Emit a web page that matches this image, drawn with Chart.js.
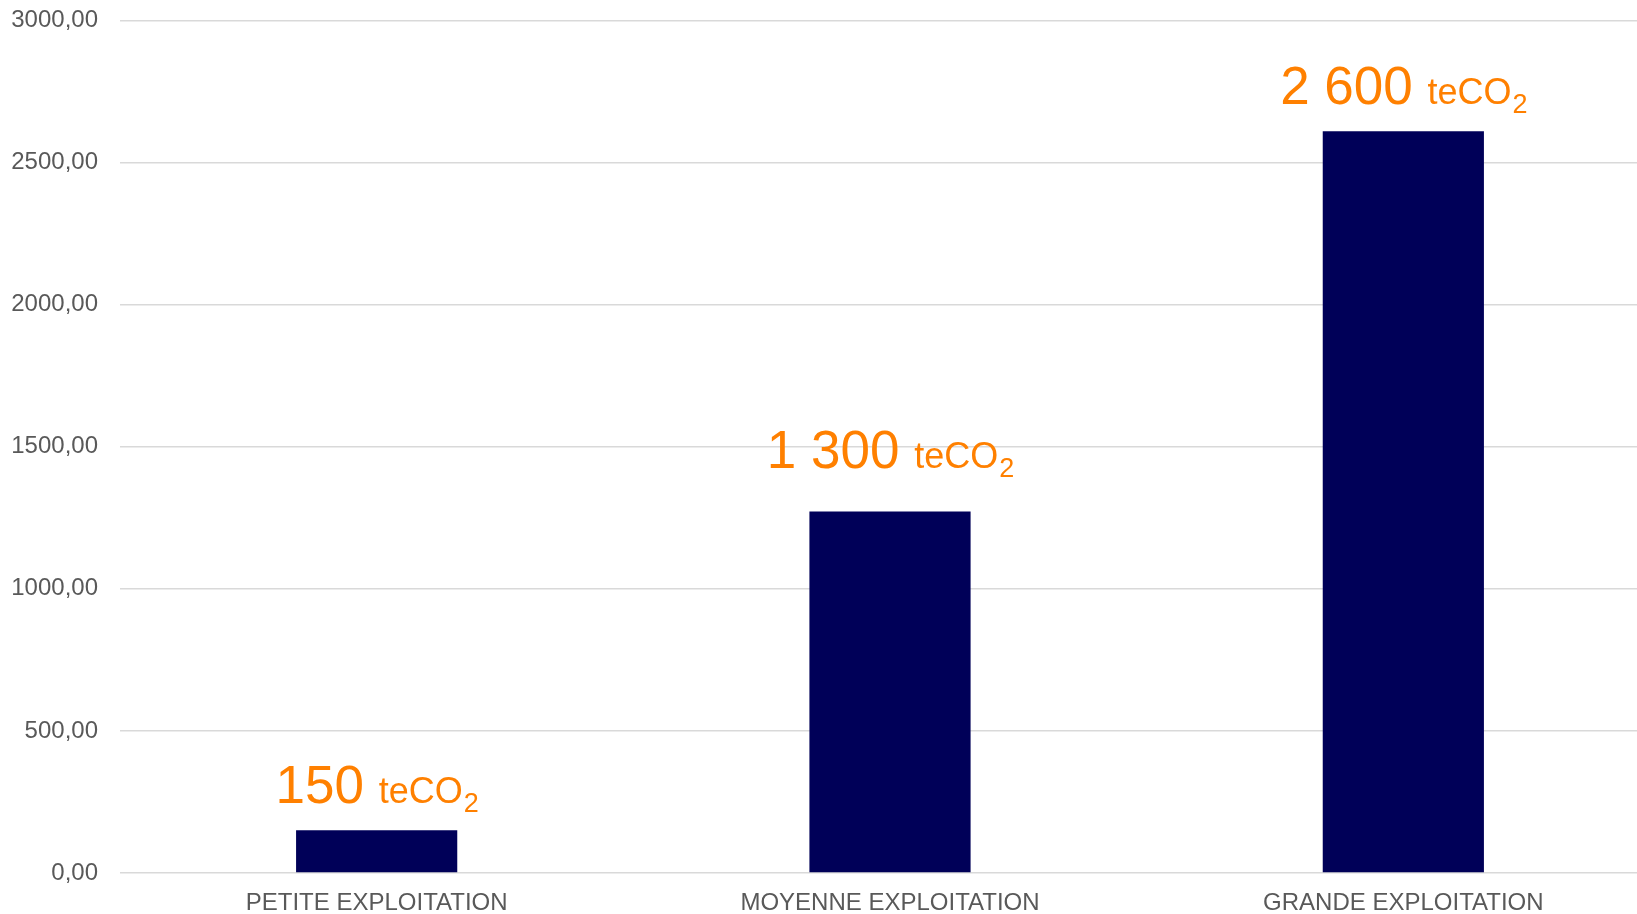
<!DOCTYPE html>
<html>
<head>
<meta charset="utf-8">
<script src="https://cdn.jsdelivr.net/npm/chart.js@4"></script>
<style>
  html, body { margin: 0; padding: 0; background: #fff; overflow: hidden; }
  #wrap { width: 1660px; height: 930px; margin-top: -16px; }
</style>
</head>
<body>
<div id="wrap"><canvas id="barCanvas"></canvas></div>
<script>
const categories = ["PETITE EXPLOITATION", "MOYENNE EXPLOITATION", "GRANDE EXPLOITATION"];
const emissions = [150, 1272, 2610];
const labelNumbers = ["150", "1 300", "2 600"];
const yTicks = [0, 500, 1000, 1500, 2000, 2500, 3000];

const FONT = "'Liberation Sans', Arial, sans-serif";

// etiquettes orange "xxx teCO2" au dessus des barres
const co2Labels = {
    id: 'co2Labels',
    afterDatasetsDraw(chart, args, opts) {
        const ctx = chart.ctx;
        const meta = chart.getDatasetMeta(0);
        ctx.save();
        ctx.fillStyle = opts.color;
        ctx.textBaseline = 'alphabetic';
        meta.data.forEach((bar, i) => {
            const big = labelNumbers[i] + ' ';
            ctx.font = '53px ' + FONT;
            const w1 = ctx.measureText(big).width;
            ctx.font = '36px ' + FONT;
            const w2 = ctx.measureText('teCO').width;
            ctx.font = '27px ' + FONT;
            const w3 = ctx.measureText('2').width;
            let x = bar.x - (w1 + w2 + w3) / 2;
            const y = bar.y - opts.lift[i];
            ctx.font = '53px ' + FONT;
            ctx.fillText(big, x, y);
            x += w1;
            ctx.font = '36px ' + FONT;
            ctx.fillText('teCO', x, y);
            x += w2;
            ctx.font = '27px ' + FONT;
            ctx.fillText('2', x + 1, y + 9);
        });
        ctx.restore();
    }
};

const barCanvas = document.getElementById("barCanvas");

const barChart = new Chart(barCanvas, {
    type: "bar",
    data: {
        labels: categories,
        datasets: [{
            data: emissions,
            backgroundColor: "#000058",
            barPercentage: 1,
            categoryPercentage: 0.314
        }]
    },
    options: {
        responsive: true,
        maintainAspectRatio: false,
        animation: false,
        layout: { padding: { top: 3, left: 0, right: 0, bottom: 0 } },
        plugins: {
            legend: { display: false },
            tooltip: { enabled: false },
            co2Labels: { color: "#FF8000", lift: [27, 43, 27] }
        },
        scales: {
            y: {
                min: 0,
                max: 3000,
                afterFit(scale) { scale.width = 120; },
                afterBuildTicks(scale) { scale.ticks = yTicks.map(v => ({ value: v })); },
                grid: { color: "#d9d9d9", lineWidth: 1.5, drawTicks: false },
                border: { display: false },
                ticks: {
                    padding: 22,
                    color: "#595959",
                    font: { family: FONT, size: 24 },
                    callback: v => v.toFixed(2).replace('.', ',')
                }
            },
            x: {
                afterFit(scale) { scale.height = 41; },
                grid: { display: false },
                border: { display: false },
                ticks: {
                    padding: 8,
                    color: "#595959",
                    font: { family: FONT, size: 24 }
                }
            }
        }
    },
    plugins: [co2Labels]
});
</script>
</body>
</html>
